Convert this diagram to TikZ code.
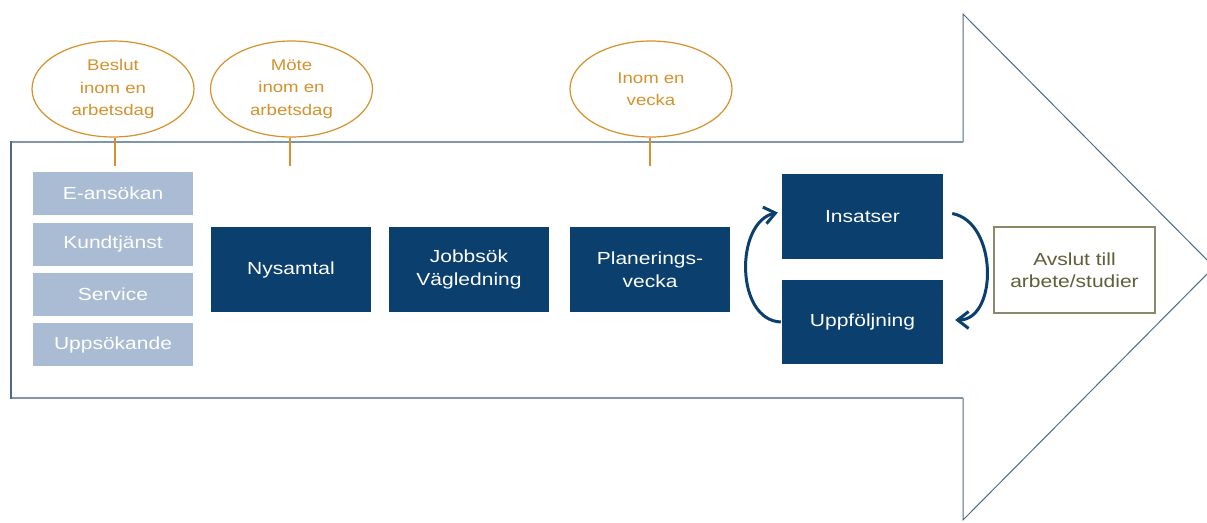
\documentclass[tikz,border=0pt]{standalone}
\usepackage{fontspec}
\setmainfont{Liberation Sans}[FakeStretch=1.2]
\usetikzlibrary{arrows.meta,shapes.geometric}
\definecolor{navy}{HTML}{0B3F6E}
\definecolor{lightbox}{HTML}{A9BCD4}
\definecolor{ora}{HTML}{D4912C}
\definecolor{olivetext}{HTML}{5F5F3A}
\definecolor{oliveborder}{HTML}{8A8A6A}
\definecolor{arrowline}{HTML}{4E6A86}
\definecolor{shaftline}{HTML}{7F95AA}
\tikzset{
  lightstep/.style={fill=lightbox, text=white, minimum width=160pt, minimum height=43pt, inner sep=0pt, font=\fontsize{17.5}{22.5}\selectfont},
  darkstep/.style={fill=navy, text=white, minimum width=160pt, minimum height=85pt, inner sep=0pt, align=center, font=\fontsize{17.5}{22.5}\selectfont},
  endstep/.style={draw=oliveborder, line width=1.2pt, fill=white, text=olivetext, minimum width=161pt, minimum height=86pt, inner sep=0pt, align=center, font=\fontsize{17.5}{22.5}\selectfont},
  timebubble/.style={ellipse, draw=ora, line width=1.2pt, text=ora, minimum width=162pt, minimum height=96pt, inner sep=0pt, align=center, font=\fontsize{15.5}{22.5}\selectfont},
  tick/.style={draw=ora, line width=1.3pt},
  loop/.style={draw=navy, line width=3pt, -{Straight Barb[length=11pt,width=17pt,line width=3pt]}}
}
\begin{document}
\begin{tikzpicture}[x=1pt,y=-1pt]
\useasboundingbox (0,0) rectangle (1207,522);
\begin{scope}
\clip (0,0) rectangle (1207,522);
% big arrow
\draw[arrowline, line width=1pt, line join=miter] (963,142) -- (963,14) -- (1214,267) -- (963,520) -- (963,398);
\draw[shaftline, line width=2.5pt] (963,142) -- (11,142);
\draw[shaftline, line width=2.5pt] (11,398) -- (963,398);
\draw[arrowline, line width=2pt] (11,141) -- (11,399);
\end{scope}
% bubbles
\node[timebubble] (b1) at (113,89) {Beslut\\inom en\\arbetsdag};
\node[timebubble] (b2) at (291.5,89) {Möte\\inom en\\arbetsdag};
\node[timebubble] (b3) at (651,89) {Inom en\\vecka};
\coordinate (t1) at (115,166);
\coordinate (t2) at (290,166);
\coordinate (t3) at (650,166);
\draw[tick] (b1.south -| t1) -- (t1);
\draw[tick] (b2.south -| t2) -- (t2);
\draw[tick] (b3.south -| t3) -- (t3);
% light boxes
\node[lightstep] (e1) at (113,193.5) {E-ansökan};
\node[lightstep] (e2) at (113,244) {Kundtjänst};
\node[lightstep] (e3) at (113,294.5) {Service};
\node[lightstep] (e4) at (113,344.5) {Uppsökande};
% dark boxes
\node[darkstep] (n1) at (291,269.5) {Nysamtal};
\node[darkstep] (n2) at (469,269.5) {Jobbsök\\Vägledning};
\node[darkstep] (n3) at (650,269.5) {Planerings-\\vecka};
\node[darkstep, minimum width=161pt] (ins) at (862.5,216.5) {Insatser};
\node[darkstep, minimum width=161pt, minimum height=84pt] (upp) at (862.5,322) {Uppföljning};
\node[endstep] (avs) at (1074.5,270) {Avslut till\\arbete/studier};
% loop arrows
\draw[loop] ([xshift=-1pt,yshift=0pt]upp.west) .. controls (735,320) and (735,222) .. ([xshift=-4pt,yshift=4pt]ins.west);
\draw[loop] ([xshift=9pt,yshift=3pt]ins.east) .. controls (998,222) and (998,320) .. ([xshift=12pt,yshift=2pt]upp.east);
\end{tikzpicture}
\end{document}
